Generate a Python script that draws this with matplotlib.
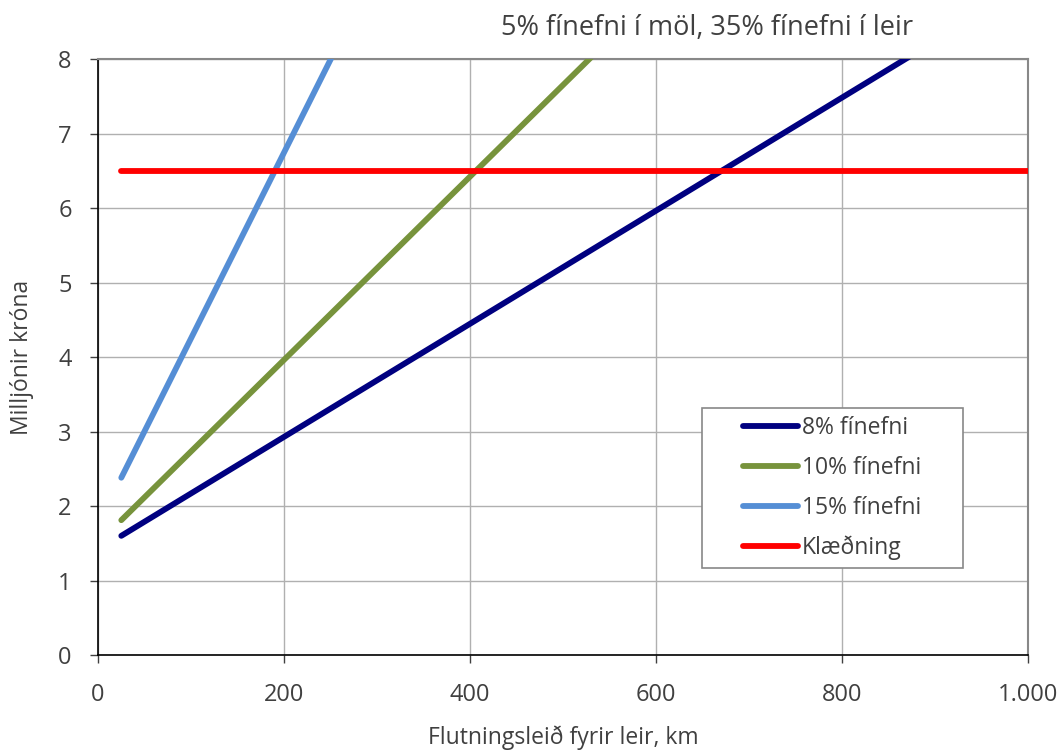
import matplotlib.pyplot as plt
from matplotlib.patches import Rectangle
from matplotlib.ticker import FuncFormatter

# Data (line endpoints; lines run past the top of the axes)
distance_km = [25, 1000]
fines_8 = [1.60, 9.00]
fines_10 = [1.81, 13.8]
fines_15 = [2.38, 26.7]
cladding = [6.5, 6.5]

series = [
    ("8% fínefni", fines_8, "#000080"),
    ("10% fínefni", fines_10, "#77933C"),
    ("15% fínefni", fines_15, "#558ED5"),
    ("Klæðning", cladding, "#FF0000"),
]

plt.rcParams['font.family'] = ['Open Sans', 'DejaVu Sans']
text_color = "#404040"

fig = plt.figure(figsize=(10.6, 7.51), dpi=100)
ax = fig.add_axes([0.0925, 0.1278, 0.8773, 0.7936])

for label, values, color in series:
    ax.plot(distance_km, values, color=color, linewidth=4.2,
            solid_capstyle="round", label=label, zorder=3)

ax.set_xlim(0, 1000)
ax.set_ylim(0, 8)
ax.set_xticks(range(0, 1001, 200))
ax.set_yticks(range(0, 9))
ax.xaxis.set_major_formatter(FuncFormatter(lambda v, p: f"{int(v):,}".replace(",", ".")))
ax.grid(True, color="#b0b0b0", linewidth=1)
ax.set_axisbelow(True)

for side in ["top", "right"]:
    ax.spines[side].set_color("#888888")
    ax.spines[side].set_linewidth(1.5)
for side in ["left", "bottom"]:
    ax.spines[side].set_color("black")
    ax.spines[side].set_linewidth(1.2)

ax.tick_params(axis="both", direction="out", length=6, width=1,
               labelsize=17, labelcolor=text_color, colors="#404040")
ax.tick_params(axis="x", pad=14)
ax.tick_params(axis="y", pad=13)

ax.set_xlabel("Flutningsleið fyrir leir, km", fontsize=16.5, color=text_color, va="center")
ax.set_ylabel("Milljónir króna", fontsize=16.5, color=text_color, va="center", ha="center")
ax.xaxis.set_label_coords(0.5, -0.139)
ax.yaxis.set_label_coords(-0.082, 0.5)
fig.text(0.667, 0.963, "5% fínefni í möl, 35% fínefni í leir", fontsize=19.5,
         color=text_color, ha="center", va="center")

# legend frame drawn separately (Excel-style wide side padding)
frame = Rectangle((0.6623, 0.2437), 0.2462, 0.2130, transform=fig.transFigure,
                  facecolor="white", edgecolor="#888888", linewidth=1.2,
                  clip_on=False, zorder=4)
ax.add_patch(frame)
leg = ax.legend(loc="center", bbox_to_anchor=(0.785, 0.350), bbox_transform=fig.transFigure,
                fontsize=16.5, frameon=False, handlelength=2.4, handletextpad=0.17,
                borderpad=0, labelspacing=0.68, labelcolor=text_color)
leg.set_zorder(5)

fig.savefig("out.png", dpi=100)
